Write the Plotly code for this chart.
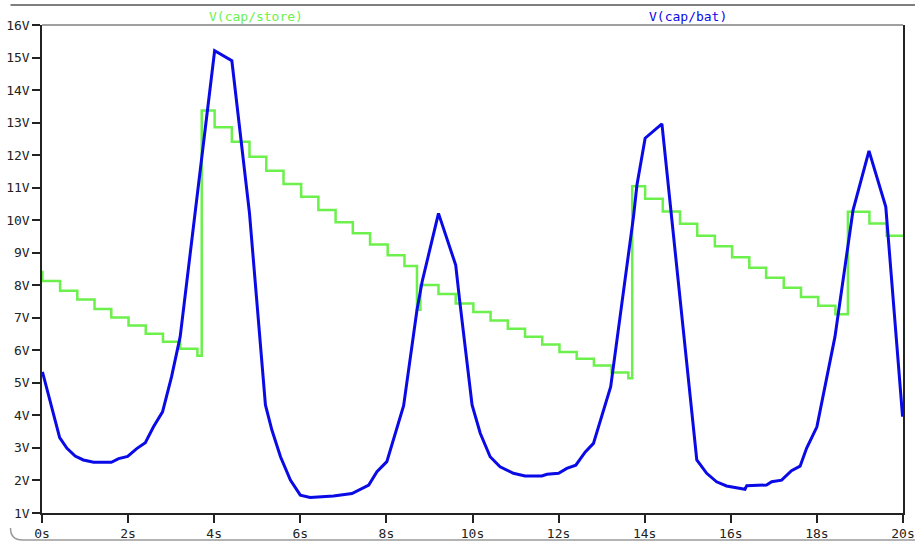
import plotly.graph_objects as go

# ---- data ----
# V(cap/store): staircase (step start times, levels)
store_t = [0.0, 0.01, 0.42, 0.82, 1.22, 1.61, 2.01, 2.41, 2.81, 3.21, 3.61, 3.71,
           4.01, 4.41, 4.82, 5.21, 5.61, 6.02, 6.42, 6.82, 7.22, 7.62, 8.03, 8.42,
           8.71, 8.79, 9.21, 9.61, 10.02, 10.42, 10.82, 11.22, 11.62, 12.02, 12.42,
           12.82, 13.23, 13.62, 13.71, 14.01, 14.42, 14.82, 15.22, 15.63, 16.03,
           16.43, 16.82, 17.23, 17.63, 18.03, 18.43, 18.72, 19.22, 19.62, 20.0]
store_v = [8.41, 8.13, 7.83, 7.56, 7.27, 7.01, 6.76, 6.51, 6.26, 6.05, 5.83, 13.37,
           12.86, 12.41, 11.95, 11.52, 11.11, 10.72, 10.31, 9.94, 9.60, 9.25, 8.92, 8.59,
           7.25, 8.01, 7.73, 7.44, 7.18, 6.92, 6.66, 6.42, 6.18, 5.95, 5.74,
           5.53, 5.32, 5.14, 11.04, 10.66, 10.27, 9.89, 9.52, 9.20, 8.86,
           8.54, 8.23, 7.92, 7.64, 7.37, 7.11, 10.26, 9.90, 9.52, 9.52]

# V(cap/bat)
bat_t = [0.01, 0.41, 0.58, 0.77, 0.96, 1.20, 1.61, 1.78, 1.99, 2.20, 2.40, 2.59, 2.80,
         3.01, 3.21, 4.01, 4.41, 4.82, 5.19, 5.34, 5.54, 5.77, 6.00, 6.23, 6.77, 7.20,
         7.59, 7.78, 8.01, 8.40, 8.71, 8.83, 9.21, 9.61, 9.70, 9.99, 10.18, 10.41,
         10.64, 10.95, 11.22, 11.61, 11.73, 12.00, 12.19, 12.40, 12.62, 12.81, 13.21,
         13.74, 13.82, 14.01, 14.40, 15.21, 15.44, 15.67, 15.90, 16.21, 16.33, 16.37,
         16.83, 16.95, 17.18, 17.41, 17.61, 17.76, 18.00, 18.42, 18.84, 19.21, 19.60,
         19.99]
bat_v = [5.34, 3.32, 2.99, 2.75, 2.63, 2.56, 2.56, 2.67, 2.74, 2.98, 3.16, 3.65, 4.11,
         5.19, 6.42, 15.21, 14.90, 10.21, 4.32, 3.55, 2.73, 2.01, 1.55, 1.48, 1.52, 1.60,
         1.86, 2.27, 2.58, 4.30, 7.24, 8.11, 10.21, 8.62, 7.55, 4.32, 3.45, 2.73,
         2.42, 2.22, 2.14, 2.14, 2.19, 2.22, 2.37, 2.47, 2.88, 3.14, 4.88,
         10.11, 11.08, 12.52, 12.96, 2.63, 2.22, 1.96, 1.83, 1.76, 1.73, 1.84,
         1.86, 1.96, 2.01, 2.30, 2.44, 2.99, 3.65, 6.42, 10.31, 12.13, 10.41,
         3.96]

x_ticks = list(range(0, 21, 2))
x_labels = [f"{v}s" for v in x_ticks]
y_ticks = list(range(1, 17))
y_labels = [f"{v}V" for v in y_ticks]

GREEN = "#6cf04c"
BLUE = "#0a0ae6"
FONT = "DejaVu Sans Mono"
FS = 13

fig = go.Figure()
fig.add_trace(go.Scatter(x=store_t, y=store_v, mode="lines", line_shape="hv",
                         line=dict(color=GREEN, width=2.5), name="V(cap/store)"))
fig.add_trace(go.Scatter(x=bat_t, y=bat_v, mode="lines",
                         line=dict(color=BLUE, width=3), name="V(cap/bat)"))

L, R, T, B = 41.5, 12, 25, 30
W, H = 915, 543
pw, ph = W - L - R, H - T - B

def px(xp):
    return (xp - L) / pw

def py(yp):
    return (H - B - yp) / ph

fig.update_layout(
    width=W, height=H,
    margin=dict(l=L, r=R, t=T, b=B, pad=0, autoexpand=False),
    paper_bgcolor="white", plot_bgcolor="white",
    showlegend=False,
    font=dict(family=FONT, size=FS, color="#222222"),
    xaxis=dict(range=[0, 20], tickvals=x_ticks, ticktext=x_labels,
               showgrid=False, zeroline=False, showline=True, linecolor="#222222",
               linewidth=1.5, ticks="outside", ticklen=8, tickcolor="#222222",
               tickwidth=1.5, automargin=False,
               tickfont=dict(family=FONT, size=FS, color="#222222")),
    yaxis=dict(range=[1, 16], tickvals=y_ticks, ticktext=y_labels,
               showgrid=False, zeroline=False, showline=True, linecolor="#222222",
               linewidth=1.5, mirror=True, ticks="outside", ticklen=8,
               tickcolor="#222222", tickwidth=1.5, automargin=False,
               tickfont=dict(family=FONT, size=FS, color="#222222")),
    annotations=[
        dict(text="V(cap/store)", x=0.249, y=py(16), xref="paper", yref="paper",
             showarrow=False, font=dict(family=FONT, size=FS, color=GREEN),
             xanchor="center", yanchor="middle"),
        dict(text="V(cap/bat)", x=0.75, y=py(16), xref="paper", yref="paper",
             showarrow=False, font=dict(family=FONT, size=FS, color=BLUE),
             xanchor="center", yanchor="middle"),
    ],
    shapes=[
        dict(type="line", xref="paper", yref="paper", x0=0, x1=1, y0=1, y1=1,
             line=dict(color="#808080", width=1.5)),
        dict(type="line", xref="paper", yref="paper", x0=px(10), x1=px(915),
             y0=py(5), y1=py(5), line=dict(color="#555555", width=1.5)),
        dict(type="path", xref="paper", yref="paper",
             path=(f"M {px(10)},{py(528)} Q {px(10)},{py(540)} {px(22)},{py(540)} "
                   f"L {px(915)},{py(540)}"),
             line=dict(color="#9a9a9a", width=1.5)),
    ],
)

fig.write_html("out.html")
